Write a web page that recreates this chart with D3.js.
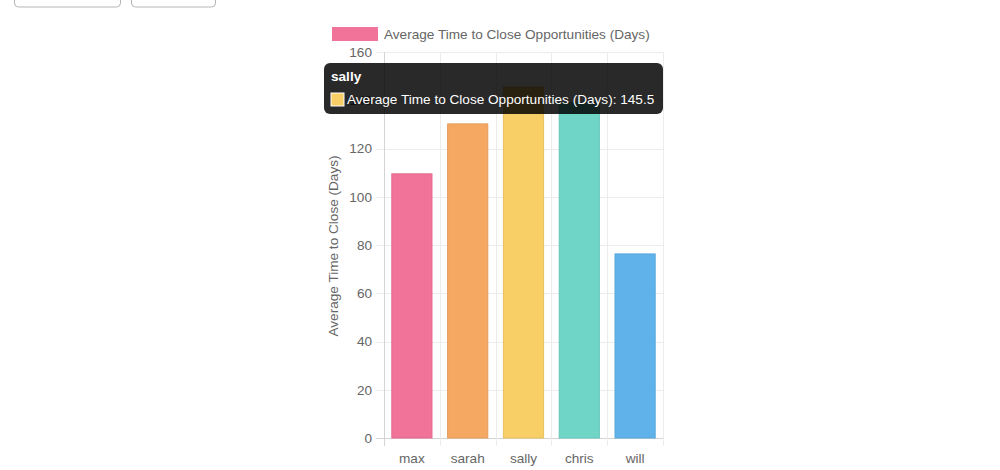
<!DOCTYPE html>
<html>
<head>
<meta charset="utf-8">
<script src="https://cdn.jsdelivr.net/npm/d3@7"></script>
<style>
  body { margin: 0; background: #fff; font-family: "Liberation Sans", Arial, sans-serif; }
</style>
</head>
<body>
<div id="chart"></div>
<script>
const people = ["max", "sarah", "sally", "chris", "will"];
const avgDays = [109.5, 130.2, 145.5, 139, 76.3];
const barColors = ["#f2739a", "#f5a862", "#f8cf66", "#6fd5c7", "#60b3ea"];
const yTicks = [0, 20, 40, 60, 80, 100, 120, 140, 160];
const seriesName = "Average Time to Close Opportunities (Days)";
const axisTitle = "Average Time to Close (Days)";
const hovered = "sally";

const width = 1000;
const height = 470;
const fs = 13.6;

const svg = d3.select('#chart')
    .append('svg')
    .attr('width', width)
    .attr('height', height);

// buttons cut off at the top of the page
svg.append("rect").attr("x", 14.5).attr("y", -20).attr("width", 106).attr("height", 27)
    .attr("rx", 4).attr("fill", "#fff").attr("stroke", "#b5b5b5");
svg.append("rect").attr("x", 131.5).attr("y", -20).attr("width", 84).attr("height", 27)
    .attr("rx", 4).attr("fill", "#fff").attr("stroke", "#b5b5b5");

const x = d3.scaleBand()
    .domain(people)
    .range([384, 663])
    .paddingInner(0)
    .paddingOuter(0);

const y = d3.scaleLinear()
    .domain([0, 160])
    .range([438, 52]);

// horizontal grid + ticks
svg.append("g")
    .selectAll("line")
    .data(yTicks)
    .enter()
    .append("line")
    .attr("x1", 376)
    .attr("x2", 663)
    .attr("y1", d => Math.round(y(d)) + 0.5)
    .attr("y2", d => Math.round(y(d)) + 0.5)
    .attr("stroke", d => d === 0 ? "#d4d4d4" : "#ececec");

// vertical grid lines between categories
const edges = people.map(p => x(p)).concat([x.range()[1]]);
svg.append("g")
    .selectAll("line")
    .data(edges)
    .enter()
    .append("line")
    .attr("x1", d => Math.round(d) + 0.5)
    .attr("x2", d => Math.round(d) + 0.5)
    .attr("y1", 52)
    .attr("y2", 446)
    .attr("stroke", (d, i) => i === 0 ? "#d4d4d4" : "#ececec");

// y tick labels
svg.append("g")
    .selectAll("text")
    .data(yTicks)
    .enter()
    .append("text")
    .attr("x", 372)
    .attr("y", d => y(d))
    .attr("dy", "0.35em")
    .attr("text-anchor", "end")
    .attr("font-size", fs)
    .attr("fill", "#666")
    .text(d => d);

// x labels
svg.append("g")
    .selectAll("text")
    .data(people)
    .enter()
    .append("text")
    .attr("x", d => x(d) + x.bandwidth() / 2)
    .attr("y", 458)
    .attr("dy", "0.35em")
    .attr("text-anchor", "middle")
    .attr("font-size", fs)
    .attr("fill", "#666")
    .text(d => d);

// axis title
svg.append("text")
    .attr("transform", "translate(338,246) rotate(-90)")
    .attr("text-anchor", "middle")
    .attr("font-size", fs)
    .attr("fill", "#666")
    .text(axisTitle);

// bars
const barW = x.bandwidth() * 0.72;
svg.append("g")
    .selectAll("rect")
    .data(people)
    .enter()
    .append("rect")
    .attr("x", d => x(d) + (x.bandwidth() - barW) / 2)
    .attr("width", barW)
    .attr("y", (d, i) => y(avgDays[i]))
    .attr("height", (d, i) => y(0) - y(avgDays[i]))
    .attr("fill", (d, i) => barColors[i])
    .attr("stroke", (d, i) => d3.color(barColors[i]).darker(0.2))
    .attr("stroke-width", 1);

// legend
const legend = svg.append("g");
legend.append("rect")
    .attr("x", 332).attr("y", 27).attr("width", 46).attr("height", 14)
    .attr("fill", barColors[0]);
legend.append("text")
    .attr("x", 384).attr("y", 34).attr("dy", "0.35em")
    .attr("font-size", fs).attr("fill", "#666")
    .text(seriesName);

// tooltip for hovered bar
const hi = people.indexOf(hovered);
const tip = svg.append("g");
tip.append("rect")
    .attr("x", 324).attr("y", 63).attr("width", 339).attr("height", 51)
    .attr("rx", 6)
    .attr("fill", "rgba(0,0,0,0.84)");
tip.append("text")
    .attr("x", 331).attr("y", 76).attr("dy", "0.35em")
    .attr("font-size", fs).attr("font-weight", "bold").attr("fill", "#fff")
    .text(hovered);
tip.append("rect")
    .attr("x", 331).attr("y", 93).attr("width", 13).attr("height", 13)
    .attr("fill", barColors[hi]).attr("stroke", "#fff").attr("stroke-width", 1);
tip.append("text")
    .attr("x", 347).attr("y", 99.5).attr("dy", "0.35em")
    .attr("font-size", fs).attr("fill", "#fff")
    .text(seriesName + ": " + avgDays[hi]);
</script>
</body>
</html>
